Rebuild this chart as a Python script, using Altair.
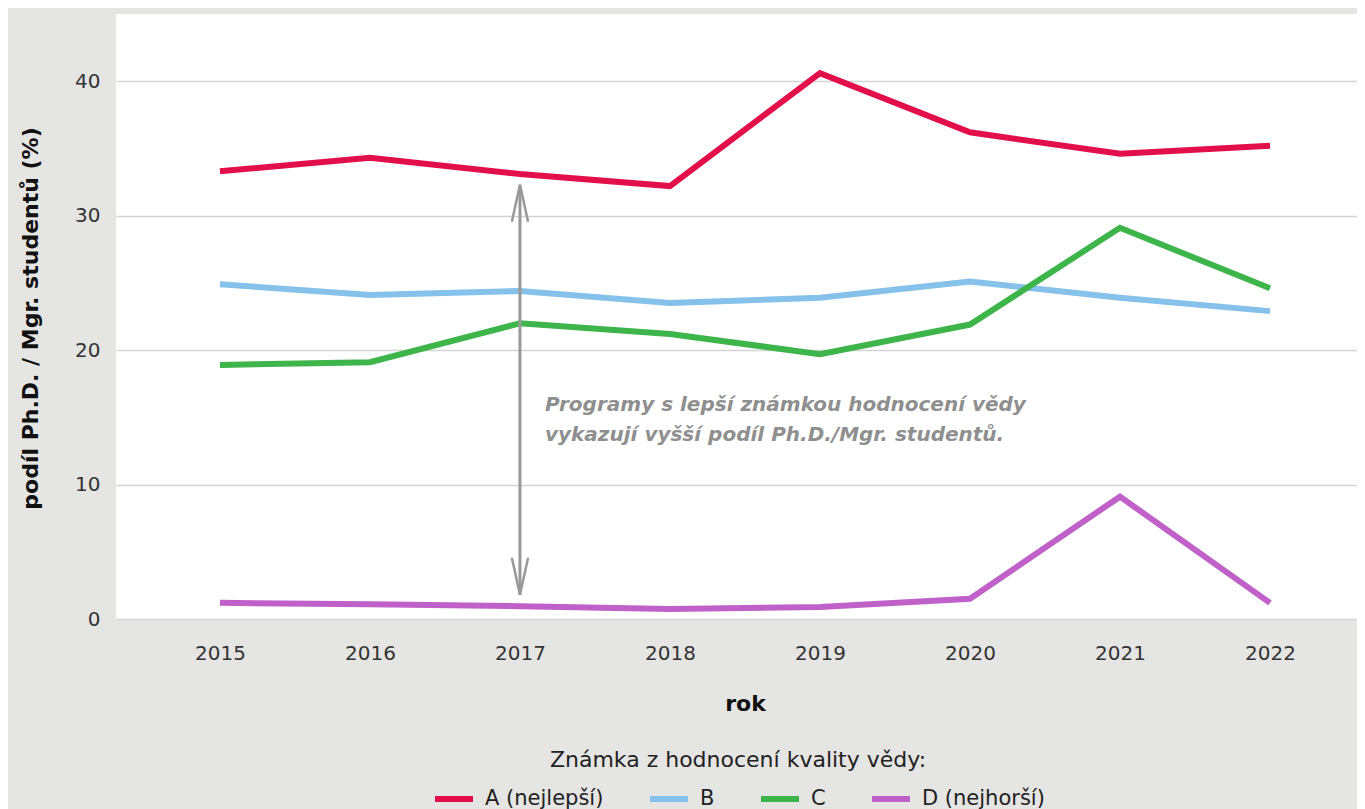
import altair as alt
import pandas as pd

years = [2015, 2016, 2017, 2018, 2019, 2020, 2021, 2022]
a_vals = [33.3, 34.3, 33.1, 32.2, 40.6, 36.2, 34.6, 35.2]
b_vals = [24.9, 24.1, 24.4, 23.5, 23.9, 25.1, 23.9, 22.9]
c_vals = [18.9, 19.1, 22.0, 21.2, 19.7, 21.9, 29.1, 24.6]
d_vals = [1.2, 1.1, 0.95, 0.75, 0.9, 1.5, 9.1, 1.2]
series_names = ["A (nejlepší)", "B", "C", "D (nejhorší)"]
series_colors = ["#e20f4b", "#85c1ea", "#3db54a", "#c061c9"]

arrow_year = [2017]
arrow_low = [1.8]
arrow_high = [32.3]
note_text = ["Programy s lepší známkou hodnocení vědy", "vykazují vyšší podíl Ph.D./Mgr. studentů."]
note_y = [16.65]

rows = []
for name, vals in zip(series_names, [a_vals, b_vals, c_vals, d_vals]):
    for y, v in zip(years, vals):
        rows.append({"year": y, "value": v, "series": name})
df = pd.DataFrame(rows)

arrow_df = pd.DataFrame({"year": arrow_year, "low": arrow_low, "high": arrow_high})
note_df = pd.DataFrame({"year": arrow_year, "y": note_y, "text": [note_text]})

FONT = "DejaVu Sans"
xscale = alt.Scale(domain=[2014.307, 2022.58], nice=False, zero=False)
yscale = alt.Scale(domain=[0, 45], nice=False)

lines = alt.Chart(df).mark_line(strokeWidth=6, strokeJoin="miter", strokeCap="butt").encode(
    x=alt.X("year:Q", scale=xscale,
            axis=alt.Axis(values=years, format="d", grid=False, domain=False, ticks=False,
                          tickSize=0, labelPadding=24, labelFontSize=20, labelColor="#333333",
                          labelFont=FONT, title="rok", titleFont=FONT, titleFontSize=22,
                          titleFontWeight="bold", titleColor="#111111", titleY=84,
                          titleBaseline="middle", titleX=629)),
    y=alt.Y("value:Q", scale=yscale,
            axis=alt.Axis(values=[0, 10, 20, 30, 40], grid=True, gridColor="#d4d4d4",
                          gridWidth=1.5, domain=False, ticks=False, tickSize=0,
                          labelPadding=16, labelFontSize=20, labelColor="#333333",
                          labelFont=FONT, title="podíl Ph.D. / Mgr. studentů (%)",
                          titleFont=FONT, titleFontSize=22, titleFontWeight="bold",
                          titleColor="#111111", titleX=-86, titleY=304,
                          titleBaseline="middle", titleLimit=0)),
    color=alt.Color("series:N", scale=alt.Scale(domain=series_names, range=series_colors),
                    sort=series_names,
                    legend=alt.Legend(orient="none", legendX=316, legendY=736,
                                      direction="horizontal",
                                      title="Známka z hodnocení kvality vědy:",
                                      titleAnchor="middle", titleFontWeight="normal",
                                      titleFont=FONT, titleFontSize=22, titleColor="#222222",
                                      titlePadding=5, titleLimit=0, labelFont=FONT,
                                      labelFontSize=21, labelLimit=0,
                                      labelColor="#222222", symbolType="stroke",
                                      symbolStrokeWidth=6, symbolSize=1444,
                                      labelOffset=9, columnPadding=34, padding=0)),
)

rule = alt.Chart(arrow_df).mark_rule(color="#999999", strokeWidth=3).encode(
    x=alt.X("year:Q", scale=xscale), y=alt.Y("low:Q", scale=yscale), y2="high:Q"
)
head_top = alt.Chart(arrow_df).mark_point(
    shape="M-0.22,1 L0,0 L0.22,1", size=5476, filled=False, stroke="#999999",
    strokeWidth=2.5, opacity=1
).encode(x=alt.X("year:Q", scale=xscale), y=alt.Y("high:Q", scale=yscale))
head_bot = alt.Chart(arrow_df).mark_point(
    shape="M-0.22,-1 L0,0 L0.22,-1", size=5476, filled=False, stroke="#999999",
    strokeWidth=2.5, opacity=1
).encode(x=alt.X("year:Q", scale=xscale), y=alt.Y("low:Q", scale=yscale))

note = alt.Chart(note_df).mark_text(
    align="left", baseline="top", dx=25, font=FONT, fontSize=20, fontStyle="italic",
    fontWeight="bold", color="#8f8f8f", lineHeight=30
).encode(x=alt.X("year:Q", scale=xscale), y=alt.Y("y:Q", scale=yscale), text="text")

chart = alt.layer(lines, rule, head_top, head_bot, note).properties(
    width=1241, height=605,
    autosize=alt.AutoSizeParams(type="none"),
    padding={"left": 108, "top": 6, "right": 0, "bottom": 190},
    background="#e5e5e4",
).configure_view(fill="white", stroke=None)

chart.save("out.html", embed_options={"renderer": "svg", "actions": False})
